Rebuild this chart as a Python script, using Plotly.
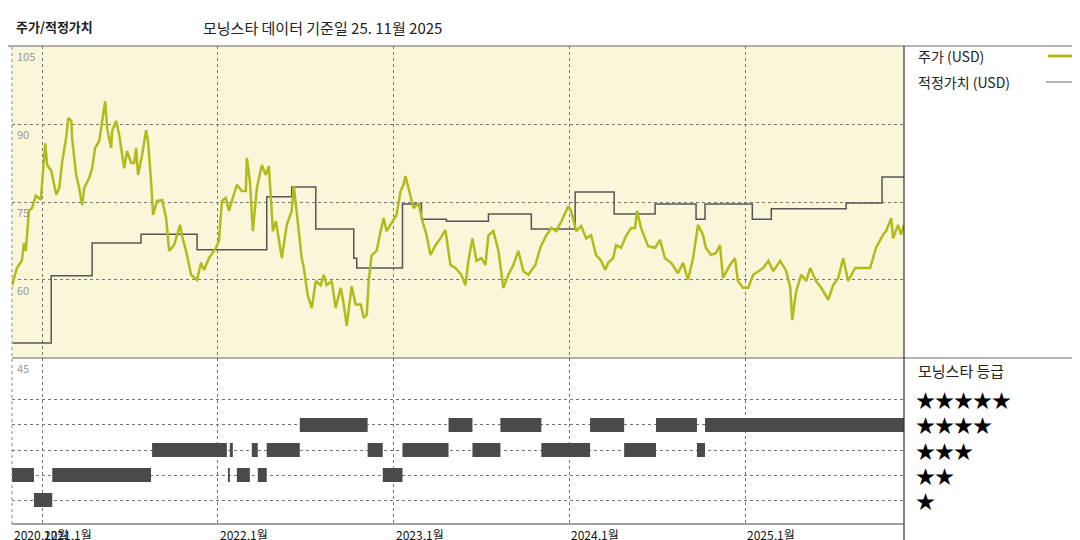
import plotly.graph_objects as go
import pandas as pd

# ---------------- data ----------------
price_t = [2020.830,2020.858,2020.886,2020.898,2020.909,2020.926,2020.943,2020.966,2020.994,2021.017,2021.028,2021.051,2021.080,2021.097,2021.114,2021.136,2021.148,2021.165,2021.170,2021.193,2021.210,2021.227,2021.239,2021.267,2021.284,2021.301,2021.324,2021.341,2021.358,2021.369,2021.392,2021.398,2021.420,2021.438,2021.466,2021.483,2021.506,2021.523,2021.534,2021.545,2021.568,2021.591,2021.602,2021.619,2021.631,2021.653,2021.682,2021.705,2021.722,2021.750,2021.767,2021.784,2021.795,2021.818,2021.847,2021.881,2021.903,2021.920,2021.949,2021.989,2022.006,2022.023,2022.045,2022.063,2022.085,2022.108,2022.136,2022.159,2022.165,2022.182,2022.199,2022.222,2022.250,2022.273,2022.290,2022.313,2022.330,2022.364,2022.392,2022.420,2022.432,2022.460,2022.477,2022.489,2022.511,2022.534,2022.557,2022.585,2022.602,2022.619,2022.648,2022.670,2022.699,2022.716,2022.733,2022.761,2022.784,2022.813,2022.830,2022.847,2022.858,2022.875,2022.903,2022.926,2022.943,2022.960,2022.989,2023.017,2023.040,2023.057,2023.068,2023.085,2023.114,2023.142,2023.165,2023.188,2023.210,2023.239,2023.267,2023.295,2023.324,2023.352,2023.386,2023.409,2023.426,2023.449,2023.472,2023.500,2023.523,2023.540,2023.568,2023.597,2023.625,2023.653,2023.682,2023.710,2023.739,2023.767,2023.807,2023.835,2023.869,2023.898,2023.926,2023.955,2023.994,2024.011,2024.040,2024.068,2024.097,2024.125,2024.153,2024.182,2024.205,2024.222,2024.250,2024.267,2024.295,2024.324,2024.352,2024.375,2024.386,2024.409,2024.449,2024.489,2024.517,2024.545,2024.580,2024.619,2024.648,2024.676,2024.705,2024.733,2024.761,2024.778,2024.807,2024.835,2024.858,2024.875,2024.915,2024.943,2024.960,2024.989,2025.017,2025.045,2025.074,2025.102,2025.131,2025.159,2025.199,2025.233,2025.256,2025.267,2025.290,2025.318,2025.347,2025.369,2025.403,2025.432,2025.472,2025.500,2025.529,2025.557,2025.585,2025.625,2025.659,2025.710,2025.744,2025.784,2025.801,2025.830,2025.841,2025.869,2025.886,2025.903]
price_v = [58.9,62.3,63.7,67.1,65.6,73.3,73.8,76.2,75.4,86.3,82.1,81,76.4,77.7,82.9,87.3,91.2,90.6,87.3,80.2,77.7,74.4,77.7,79.6,81.5,85.4,86.7,90.6,94.4,89.2,85.4,88.7,90.6,87.9,81.5,84.8,82.5,82.5,85.4,80.2,84,88.8,86.7,79,72.5,75.2,75.4,71.9,65.6,66.7,68.6,70.6,68.6,65.6,61,60,63.3,61.9,64.2,66.2,67.5,75.2,75.8,73.3,75.8,78.3,77.1,77.1,83.5,79,69.4,77.7,82.1,80.2,81.9,69.4,71.3,64.2,70.6,73.3,78.1,69.4,64.2,62.3,57.1,54.6,59.8,59,61,59,59.8,54.6,58.5,55.3,51.2,58.8,55.3,55.3,52.7,53.3,59.8,64.8,65.6,69.4,71.9,69.4,71,72.5,77.1,78.3,80,77.7,73.8,74.8,71.3,68.6,64.8,66.7,68,69.6,62.9,62.3,61,59,63.7,68,63.7,64.2,62.9,68.6,69.4,65.6,58.5,61,62.9,65.6,61.7,61,62.9,66.2,68.6,70,69.4,71.3,74.2,73.3,69.4,70.4,68,68.6,64.8,63.7,61.9,63.3,64.2,66.7,66.2,68.5,70,70,73.3,70,66.5,66.2,67.7,64.2,63.3,61.3,63.3,60,64.2,70.6,68.7,66.2,64.8,65.2,66.7,60.4,62.9,64.2,59.8,58.5,58.5,61,61.7,62.3,63.7,61.7,63.7,61.7,58.5,52.3,57.9,61,59.8,62.3,59.8,58.5,56.2,59,60.4,64.2,59.8,62.3,62.3,62.3,66.2,68.7,69.4,71.9,68,70.6,68.7,70.6]

fair_t = [2020.835,2021.051,2021.284,2021.562,2021.881,2022.278,2022.420,2022.557,2022.773,2022.790,2023.051,2023.159,2023.301,2023.540,2023.784,2024.034,2024.256,2024.489,2024.722,2024.773,2025.040,2025.148,2025.574,2025.778,2025.903]
fair_v = [47.9,60.8,67.1,68.8,65.8,76,77.9,69.8,64.2,62.3,74.6,71.7,71.3,72.7,69.8,76.9,72.7,74.6,71.7,74.6,71.7,73.7,74.8,79.8,79.8]

# rating periods: (start, end, stars)
rating_start = [2020.830,2020.955,2021.057,2021.625,2022.057,2022.068,2022.108,2022.193,2022.227,2022.278,2022.466,2022.852,2022.938,2023.051,2023.313,2023.449,2023.608,2023.841,2024.119,2024.313,2024.494,2024.727,2024.773]
rating_end   = [2020.955,2021.057,2021.619,2022.051,2022.068,2022.085,2022.182,2022.227,2022.278,2022.466,2022.852,2022.938,2023.051,2023.313,2023.449,2023.608,2023.841,2024.119,2024.313,2024.494,2024.727,2024.773,2025.903]
rating_stars = [2,1,2,3,2,3,2,3,2,3,4,3,2,3,4,3,4,3,4,3,4,3,4]

y_ticks = [105, 90, 75, 60]
x_tick_dates = ["2021-01-01","2022-01-01","2023-01-01","2024-01-01","2025-01-01"]
x_tick_labels = ["2021,1월","2022,1월","2023,1월","2024,1월","2025,1월"]
start_label = "2020,12월"
star_labels = ["★","★★","★★★","★★★★","★★★★★"]


def to_date(t):
    y = int(t)
    return pd.Timestamp(year=y, month=1, day=1) + pd.Timedelta(days=(t - y) * 365.25)

FONT = "Noto Sans CJK KR"
GREEN = "#b3bb1c"
PW = 892
PH = 478
x0d, x1d = to_date(price_t[0]), to_date(price_t[-1])

fig = go.Figure()
fig.add_trace(go.Scatter(x=[to_date(t) for t in fair_t], y=fair_v, mode="lines",
                         line=dict(color="#555555", width=1.5, shape="hv"),
                         xaxis="x", yaxis="y", hoverinfo="skip"))
fig.add_trace(go.Scatter(x=[to_date(t) for t in price_t], y=price_v, mode="lines",
                         line=dict(color=GREEN, width=2.5),
                         xaxis="x", yaxis="y", hoverinfo="skip"))

bx, by = [], []
for s, e, r in zip(rating_start, rating_end, rating_stars):
    bx += [to_date(s), to_date(e), None]
    by += [r, r, None]
fig.add_trace(go.Scatter(x=bx, y=by, mode="lines", line=dict(color="#4a4a4a", width=14),
                         xaxis="x2", yaxis="y2", hoverinfo="skip"))

grid = dict(showgrid=True, gridcolor="#777777", griddash="dot", gridwidth=1)
fig.update_layout(
    width=1080, height=540, showlegend=False,
    margin=dict(l=4, r=184, t=38, b=24, autoexpand=False),
    paper_bgcolor="white", plot_bgcolor="rgba(0,0,0,0)",
    font=dict(family=FONT, color="#222"),
    xaxis=dict(domain=[0, 1], anchor="y", range=[x0d, x1d], tickvals=x_tick_dates,
               showticklabels=False, zeroline=False, **grid),
    xaxis2=dict(domain=[0, 1], anchor="y2", range=[x0d, x1d], tickvals=x_tick_dates,
                showticklabels=False, zeroline=False, matches="x", **grid),
    yaxis=dict(domain=[0.3473, 1], range=[45, 105], tickvals=[60, 75, 90],
               showticklabels=False, zeroline=False, **grid),
    yaxis2=dict(domain=[0, 0.3473], range=[0.04, 6.68], tickvals=[1, 2, 3, 4, 5],
                showticklabels=False, zeroline=False, **grid),
)

shapes = [
    dict(type="rect", xref="paper", yref="paper", x0=0, x1=1, y0=0.3473, y1=1,
         fillcolor="#f9f6da", line=dict(width=0), layer="below"),
    dict(type="line", xref="paper", yref="paper", x0=-0.01, x1=1 + 184/PW, y0=1, y1=1,
         line=dict(color="#666", width=1)),
    dict(type="line", xref="paper", yref="paper", x0=0, x1=1 + 184/PW, y0=0.3473, y1=0.3473,
         line=dict(color="#666", width=1)),
    dict(type="line", xref="paper", yref="paper", x0=0, x1=1, y0=0, y1=0,
         line=dict(color="#444", width=1)),
    dict(type="line", xref="paper", yref="paper", x0=1, x1=1, y0=-24/PH, y1=1,
         line=dict(color="#333", width=1.2)),
    dict(type="line", xref="paper", yref="paper", x0=0, x1=0, y0=0, y1=1,
         line=dict(color="#888", width=1, dash="dot")),
    dict(type="line", xref="paper", yref="paper", x0=(1040-4)/PW, x1=(1072-4)/PW, y0=(516-48)/PH, y1=(516-48)/PH,
         line=dict(color=GREEN, width=3)),
    dict(type="line", xref="paper", yref="paper", x0=(1038-4)/PW, x1=(1072-4)/PW, y0=(516-74)/PH, y1=(516-74)/PH,
         line=dict(color="#666", width=1)),
]
fig.update_layout(shapes=shapes)

ann = [
    dict(text="<b>주가/적정가치</b>", x=6, y=18, font=dict(size=13)),
    dict(text="모닝스타 데이터 기준일 25. 11월 2025", x=193, y=20, font=dict(size=15)),
    dict(text="주가 (USD)", x=908, y=48, font=dict(size=14)),
    dict(text="적정가치 (USD)", x=908, y=74, font=dict(size=14)),
    dict(text="모닝스타 등급", x=908, y=362, font=dict(size=15)),
]
annotations = []
for a in ann:
    annotations.append(dict(text=a["text"], xref="paper", yref="paper",
                            x=(a["x"] - 4) / PW, y=(516 - a["y"]) / PH,
                            xanchor="left", yanchor="middle", showarrow=False, font=a["font"]))
for i, lab in enumerate(star_labels):
    annotations.append(dict(text=lab, xref="paper", yref="y2", x=(906 - 4) / PW, y=i + 1,
                            xanchor="left", yanchor="middle", showarrow=False,
                            font=dict(size=19, color="black")))
for v in y_ticks:
    annotations.append(dict(text=str(v), xref="paper", yref="y", x=0.003, y=v, xanchor="left",
                            yanchor="top", showarrow=False, font=dict(size=11, color="#999")))
annotations.append(dict(text="45", xref="paper", yref="y2", x=0.003, y=6.68, xanchor="left",
                        yanchor="top", showarrow=False, font=dict(size=11, color="#999")))
annotations.append(dict(text=start_label, xref="paper", yref="paper", x=0.0, y=0, xanchor="left",
                        yanchor="top", showarrow=False, font=dict(size=12, color="#111")))
for d, lab in zip(x_tick_dates, x_tick_labels):
    annotations.append(dict(text=lab, xref="x2", yref="paper", x=d, y=0, xanchor="left",
                            yanchor="top", showarrow=False, font=dict(size=12, color="#111")))
fig.update_layout(annotations=annotations)

fig.write_html("out.html")
